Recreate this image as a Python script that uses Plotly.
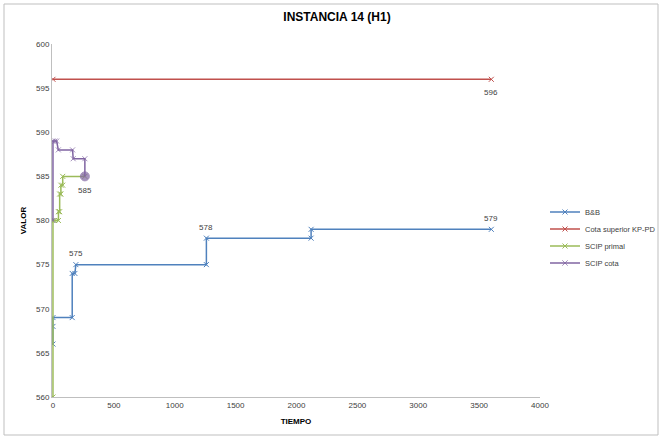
import plotly.graph_objects as go

# ---- data ----
bb_t = [0, 0, 0, 158, 158, 180, 188, 1260, 1260, 2120, 2120, 3600]
bb_v = [566, 568, 569, 569, 574, 574, 575, 575, 578, 578, 579, 579]

cota_t = [0, 3600]
cota_v = [596, 596]

primal_t = [0, 0, 15, 45, 45, 55, 55, 65, 65, 80, 80, 262]
primal_v = [560, 580, 580, 580, 581, 581, 583, 583, 584, 584, 585, 585]

scota_t = [0, 0, 16, 30, 44, 161, 166, 262, 262]
scota_v = [580, 589, 589, 589, 588, 588, 587, 587, 585]

labels = [(188, 575, "575", 11), (1260, 578, "578", 11), (3600, 579, "579", 11),
          (3600, 596, "596", -13), (262, 585, "585", -14)]

series_names = ["B&B", "Cota superior KP-PD", "SCIP primal", "SCIP cota"]
colors = ["#4F81BD", "#C0504D", "#9BBB59", "#8064A2"]

x_ticks = [0, 500, 1000, 1500, 2000, 2500, 3000, 3500, 4000]
y_ticks = [560, 565, 570, 575, 580, 585, 590, 595, 600]

FONT = "Liberation Sans"

L, R, T, B = 52, 122, 44, 42
W, H = 662, 439
pw, ph = W - L - R, H - T - B

fig = go.Figure()
legend_ids = ["legend", "legend2", "legend3", "legend4"]
legend_ypix = [212, 229, 246, 263]

def add(i, t, v, symbols=None, sizes=None):
    c = colors[i]
    fig.add_trace(go.Scatter(
        x=t, y=v, name=series_names[i], mode="lines+markers", legend=legend_ids[i],
        line=dict(color=c, width=1.5),
        marker=dict(symbol=symbols if symbols else "x-thin", size=sizes if sizes else 5,
                    color=c, line=dict(color=c, width=1)),
    ))

add(0, bb_t, bb_v)
add(1, cota_t, cota_v)
add(2, primal_t, primal_v)
sym = ["x-thin"] * (len(scota_t) - 1) + ["circle"]
siz = [5] * (len(scota_t) - 1) + [9]
add(3, scota_t, scota_v, sym, siz)

for x, y, txt, shift in labels:
    fig.add_annotation(x=x, y=y, text=txt, showarrow=False, yshift=shift,
                       font=dict(family=FONT, size=8, color="#404040"))

# outer chart border
fig.add_shape(type="rect", xref="paper", yref="paper",
              x0=(4 - L) / pw, x1=(W - 4 - L) / pw,
              y0=-(B - 4) / ph, y1=1 + (T - 4) / ph,
              line=dict(color="#BFBFBF", width=1), layer="below")

leg_common = dict(xanchor="left", yanchor="middle",
                  font=dict(family=FONT, size=7.5, color="#404040"),
                  itemwidth=30, bgcolor="rgba(0,0,0,0)")
legends = {}
for lid, yp in zip(legend_ids, legend_ypix):
    legends[lid] = dict(x=(545 - L) / pw, y=(H - B - yp) / ph, **leg_common)

fig.update_layout(
    width=W, height=H,
    margin=dict(l=L, r=R, t=T, b=B, autoexpand=False),
    paper_bgcolor="white", plot_bgcolor="white",
    title=dict(text="<b>INSTANCIA 14 (H1)</b>", x=337 / W, xref="container", xanchor="center",
               y=1 - 17 / H, yref="container", yanchor="middle",
               font=dict(family=FONT, size=12, color="#000000")),
    xaxis=dict(range=[-8, 4000], tickvals=x_ticks, showgrid=False, zeroline=False,
               showline=True, linecolor="#BFBFBF", linewidth=1, ticks="", automargin=False,
               layer="below traces",
               tickfont=dict(family=FONT, size=8, color="#404040"),
               title=dict(text="<b>TIEMPO</b>", standoff=9,
                          font=dict(family=FONT, size=8, color="#000000"))),
    yaxis=dict(range=[560, 600], tickvals=y_ticks, showgrid=False, zeroline=False,
               showline=True, linecolor="#BFBFBF", linewidth=1, ticks="", automargin=False,
               layer="below traces",
               tickfont=dict(family=FONT, size=8, color="#404040"),
               title=dict(text="<b>VALOR</b>", standoff=8,
                          font=dict(family=FONT, size=8, color="#000000"))),
    showlegend=True,
    **legends,
)

fig.write_html("out.html", config={"displayModeBar": False},
               post_script="document.body.style.margin='0';document.body.style.padding='0';")
